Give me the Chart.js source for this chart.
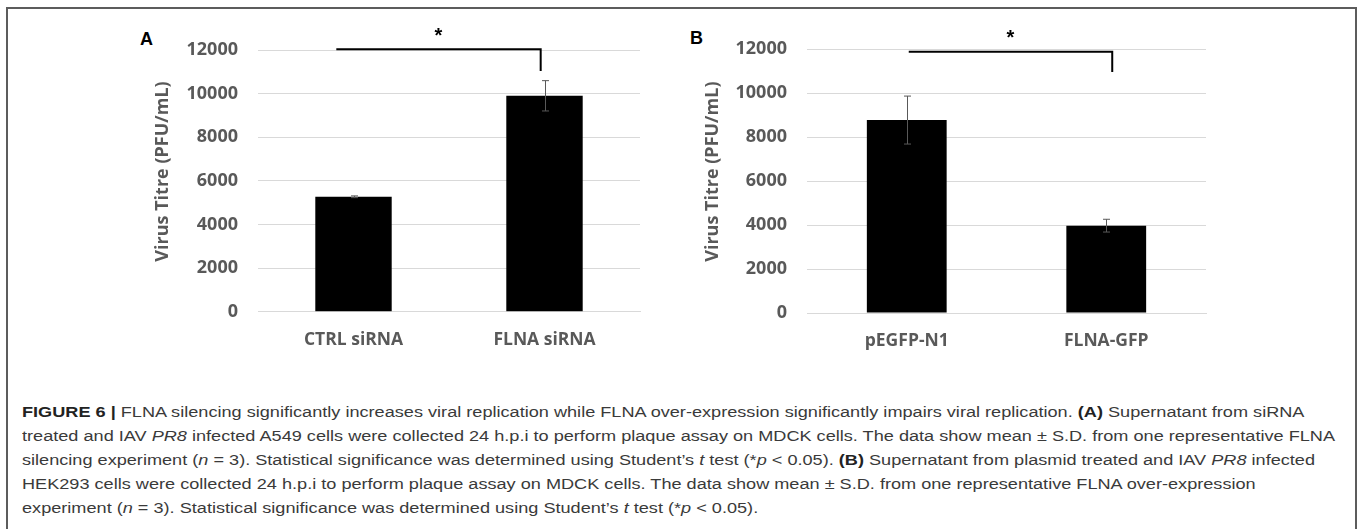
<!DOCTYPE html>
<html>
<head>
<meta charset="utf-8">
<script src="https://cdn.jsdelivr.net/npm/chart.js@4.4.1/dist/chart.umd.min.js"></script>
<style>
  body { margin: 0; background: #fff; width: 1357px; height: 529px; overflow: hidden; position: relative; }
  #frame { position: absolute; left: 6px; top: 7px; width: 1347px; height: 600px; border: 2px solid #5c5c5c; border-bottom: none; }
  .panel { position: absolute; top: 0; }
  .letter { position: absolute; font: bold 18px 'Liberation Sans', Arial, sans-serif; line-height: 1; color: #000; }
  #caption { position: absolute; left: 22px; top: 400px; font: 15.5px 'Liberation Sans', Arial, sans-serif; color: #3a3a3a; line-height: 24px; }
  #caption span.line { display: inline-block; white-space: nowrap; transform-origin: 0 0; }
  #caption b { color: #222; }
</style>
</head>
<body>
<div id="frame"></div>

<div class="letter" style="left:140px; top:30px;">A</div>
<div class="letter" style="left:690px; top:29px;">B</div>

<div class="panel" style="left:130px; width:530px; height:370px;"><canvas id="chartA"></canvas></div>
<div class="panel" style="left:680px; width:546px; height:370px;"><canvas id="chartB"></canvas></div>

<div id="caption">
  <span class="line"><b>FIGURE 6 |</b> FLNA silencing significantly increases viral replication while FLNA over-expression significantly impairs viral replication. <b>(A)</b> Supernatant from siRNA</span><br>
  <span class="line">treated and IAV <i>PR8</i> infected A549 cells were collected 24 h.p.i to perform plaque assay on MDCK cells. The data show mean ± S.D. from one representative FLNA</span><br>
  <span class="line">silencing experiment (<i>n</i> = 3). Statistical significance was determined using Student’s <i>t</i> test (*<i>p</i> &lt; 0.05). <b>(B)</b> Supernatant from plasmid treated and IAV <i>PR8</i> infected</span><br>
  <span class="line">HEK293 cells were collected 24 h.p.i to perform plaque assay on MDCK cells. The data show mean ± S.D. from one representative FLNA over-expression</span><br>
  <span class="line">experiment (<i>n</i> = 3). Statistical significance was determined using Student’s <i>t</i> test (*<i>p</i> &lt; 0.05).</span>
</div>

<script>
// --- data ---
const categoriesA = ['CTRL siRNA', 'FLNA siRNA'];
const titreA = [5270, 9900];
const sdA = [40, 695];

const categoriesB = ['pEGFP-N1', 'FLNA-GFP'];
const titreB = [8770, 3970];
const sdB = [1090, 290];

const yMin = 0;
const yMax = 12000;
const yStep = 2000;

// significance brackets: [from category, to category, line value, drop value]
const sigA = [-0.09, 0.98, 12030, 11040];
const sigB = [0.01, 1.03, 11880, 10960];

const axisTitle = 'Virus Titre (PFU/mL)';
const tickGrey = '#595959';
const gridGrey = '#d9d9d9';

Chart.defaults.font.family = "'Open Sans', sans-serif";
Chart.defaults.animation = false;

// error bars (mean ± S.D.)
const errorBars = {
    id: 'errorBars',
    afterDatasetsDraw(chart, args, opts) {
        const ctx = chart.ctx;
        const x = chart.scales.x, y = chart.scales.y;
        const vals = chart.data.datasets[0].data;
        ctx.save();
        ctx.strokeStyle = tickGrey;
        ctx.lineWidth = 1;
        vals.forEach((v, i) => {
            const px = Math.round(x.getPixelForValue(i)) + 0.5;
            const top = y.getPixelForValue(v + opts.sd[i]);
            const bot = y.getPixelForValue(v - opts.sd[i]);
            ctx.beginPath();
            ctx.moveTo(px, top); ctx.lineTo(px, bot);
            ctx.moveTo(px - 3.5, top); ctx.lineTo(px + 3.5, top);
            ctx.moveTo(px - 3.5, bot); ctx.lineTo(px + 3.5, bot);
            ctx.stroke();
        });
        ctx.restore();
    }
};

// significance bracket with star
const sigBracket = {
    id: 'sigBracket',
    afterDraw(chart, args, opts) {
        const [from, to, lineVal, dropVal] = opts.bracket;
        const ctx = chart.ctx;
        const x = chart.scales.x, y = chart.scales.y;
        const x1 = x.getPixelForValue(from), x2 = x.getPixelForValue(to);
        const yl = y.getPixelForValue(lineVal), yd = y.getPixelForValue(dropVal);
        ctx.save();
        ctx.strokeStyle = '#000';
        ctx.lineWidth = 2;
        ctx.beginPath();
        ctx.moveTo(x1, yl); ctx.lineTo(x2, yl); ctx.lineTo(x2, yd);
        ctx.stroke();
        ctx.fillStyle = '#000';
        ctx.font = "bold 20px 'Liberation Sans', Arial, sans-serif";
        ctx.textAlign = 'center';
        ctx.textBaseline = 'middle';
        ctx.fillText('*', (x1 + x2) / 2, yl - 13);
        ctx.restore();
    }
};

function makeChart(id, labels, values, sd, bracket, yAxisWidth, xAxisHeight, padTop) {
    return new Chart(document.getElementById(id), {
        type: 'bar',
        data: {
            labels: labels,
            datasets: [{
                data: values,
                backgroundColor: '#000',
                borderWidth: 0,
                barPercentage: 0.4,
                categoryPercentage: 1.0
            }]
        },
        options: {
            responsive: true,
            maintainAspectRatio: false,
            layout: { padding: { top: padTop, right: 20, left: 0, bottom: 0 } },
            plugins: {
                legend: { display: false },
                tooltip: { enabled: false },
                errorBars: { sd: sd },
                sigBracket: { bracket: bracket }
            },
            scales: {
                x: {
                    grid: { display: false, drawTicks: false },
                    border: { display: true, color: gridGrey, width: 1 },
                    ticks: { color: tickGrey, font: { size: 17.5, weight: 'bold' }, padding: 18 },
                    afterFit: (s) => { s.height = xAxisHeight; }
                },
                y: {
                    min: yMin,
                    max: yMax,
                    ticks: {
                        stepSize: yStep,
                        color: tickGrey,
                        font: { size: 18, weight: 'bold' },
                        padding: 20,
                        callback: (v) => String(v)
                    },
                    grid: { color: gridGrey, lineWidth: 1, drawTicks: false },
                    border: { display: false },
                    title: {
                        display: true,
                        text: '    ' + axisTitle,
                        color: tickGrey,
                        font: { size: 18, weight: 'bold' },
                        padding: { top: 22, bottom: 0 }
                    },
                    afterFit: (s) => { s.width = yAxisWidth; }
                }
            }
        },
        plugins: [errorBars, sigBracket]
    });
}

makeChart('chartA', categoriesA, titreA, sdA, sigA, 128, 58.3, 50);
makeChart('chartB', categoriesB, titreB, sdB, sigB, 127, 57, 49);

// squeeze caption lines to the condensed width of the original
const lines = document.querySelectorAll('#caption span.line');
const scale = 1313 / lines[1].getBoundingClientRect().width;
lines.forEach(l => { l.style.transform = 'scaleX(' + scale + ')'; });
</script>
</body>
</html>
